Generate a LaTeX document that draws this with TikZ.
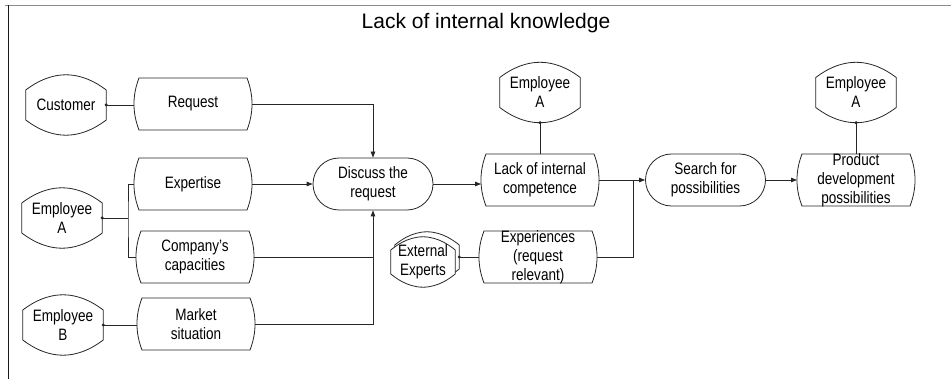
\documentclass[tikz,border=0pt]{standalone}
\usepackage{fontspec}
\setmainfont{Liberation Sans}
\newfontfamily\nar[FakeStretch=0.82]{Liberation Sans}
\usetikzlibrary{calc,arrows.meta,shapes.misc}
\pgfdeclarelayer{bg}
\pgfdeclarelayer{paper}
\pgfsetlayers{paper,bg,main}
\newcommand\roleout[2]{%
  \draw[shp] ($(#1.west)+(0,-#2)$) parabola bend (#1.north) ($(#1.east)+(0,-#2)$)
    -- ($(#1.east)+(0,#2)$) parabola bend (#1.south) ($(#1.west)+(0,#2)$) -- cycle;}
\newcommand\infoout[1]{%
  \draw[shp] ($(#1.center)+(-54,-26)$) -- ($(#1.center)+(54,-26)$)
    .. controls +(6.7,17.3) and +(6.7,-17.3) .. ($(#1.center)+(54,26)$)
    -- ($(#1.center)+(-54,26)$)
    .. controls +(-6.7,-17.3) and +(-6.7,17.3) .. ($(#1.center)+(-54,-26)$) -- cycle;}
\begin{document}
\begin{tikzpicture}[x=1pt,y=-1pt,
  shp/.style={draw=black!85,line width=0.8pt,fill=white},
  ln/.style={draw=black!85,line width=0.8pt},
  arr/.style={ln,-{Triangle[length=6pt,width=4.5pt]}},
  txt/.style={font=\nar\fontsize{16.5}{19}\selectfont,align=center},
  role/.style={txt,minimum width=80pt,minimum height=60pt,inner sep=0pt},
  info/.style={txt,minimum width=108pt,minimum height=52pt,inner xsep=0pt,inner ysep=-5pt,outer xsep=5pt,outer ysep=0pt},
  stad/.style={txt,rounded rectangle,draw=black!85,line width=0.8pt,minimum width=120pt,minimum height=52pt,inner sep=0pt},
  dot/.style={fill=black!85}]
\begin{pgfonlayer}{paper}
\fill[white] (0,0) rectangle (951,379);
\end{pgfonlayer}
\useasboundingbox (0,0) rectangle (951,379);
\draw[draw=black!45,line width=0.9pt] (5,5.5) -- (951,5.5);
\draw[draw=black!90,line width=0.9pt] (8,5.5) -- (8,379);
\node[anchor=base,font=\fontsize{21}{25}\selectfont] (title) at (486,29) {Lack of internal knowledge};

% roles
\node[role] (cust) at (66,105) {Customer};
\node[role] (empA) at (62,218) {Employee\\A};
\node[role] (empB) at (63,325) {Employee\\B};
\node[role] (emp2) at (540,92.5) {Employee\\A};
\node[role] (emp3) at (856,92.5) {Employee\\A};
\node[role,minimum width=64pt,minimum height=50pt] (ext) at (423,262) {External\\Experts};

% information objects
\node[info] (req) at (193,104) {Request};
\node[info] (expt) at (193,184) {Expertise};
\node[info] (comp) at (195,257) {Company’s\\capacities};
\node[info] (mkt) at (196,324) {Market\\situation};
\node[info] (lack) at (540,180) {Lack of internal\\competence};
\node[info] (exp) at (538,257) {Experiences\\(request\\relevant)};
\node[info] (prod) at (856,180) {Product\\development\\possibilities};

% functions
\node[stad] (disc) at (373,184) {Discuss the\\request};
\node[stad] (srch) at (705.5,180) {Search for\\possibilities};

\begin{pgfonlayer}{bg}
\roleout{cust}{15}
\roleout{empA}{15}
\roleout{empB}{15}
\roleout{emp2}{15}
\roleout{emp3}{15}
\draw[shp] ($(ext.west)+(4,-17)$) parabola bend ($(ext.north)+(4,-5)$) ($(ext.east)+(4,-17)$)
  -- ($(ext.east)+(4,7)$) parabola bend ($(ext.south)+(4,-5)$) ($(ext.west)+(4,7)$) -- cycle;
\roleout{ext}{12}
\infoout{req}
\infoout{expt}
\infoout{comp}
\infoout{mkt}
\infoout{lack}
\infoout{exp}
\infoout{prod}
\end{pgfonlayer}

\coordinate (jA) at (128,218);
\coordinate (jB) at (633,180);
\coordinate (extc) at ($(ext.east)+(4,-5)$);

% connectors
\draw[ln] (cust.east) -- (cust.east -| req.west);
\fill[dot] (cust.east) circle (1.7pt);
\draw[ln] (empA.east) -- (jA);
\draw[ln] (expt.west) -| (jA) |- (comp.west);
\fill[dot] (empA.east) circle (1.7pt);
\draw[ln] (empB.east) -- (empB.east -| mkt.west);
\fill[dot] (empB.east) circle (1.7pt);
\draw[arr] (req.east) -| (disc.north);
\draw[arr] (expt.east) -- (disc.west);
\draw[ln] (comp.east) -- (comp.east -| disc.south);
\draw[arr] (mkt.east) -| (disc.south);
\draw[arr] (disc.east) -- (disc.east -| lack.west);
\draw[ln] (lack.north) -- (lack.north |- emp2.south);
\fill[dot] (emp2.south) circle (1.7pt);
\draw[arr] (lack.east) -- (srch.west);
\draw[ln] (exp.east) -| (jB);
\draw[ln] (extc) -- (extc -| exp.west);
\fill[dot] (extc) circle (1.7pt);
\draw[arr] (srch.east) -- (prod.west);
\draw[ln] (prod.north) -- (prod.north |- emp3.south);
\fill[dot] (emp3.south) circle (1.7pt);
\end{tikzpicture}
\end{document}
